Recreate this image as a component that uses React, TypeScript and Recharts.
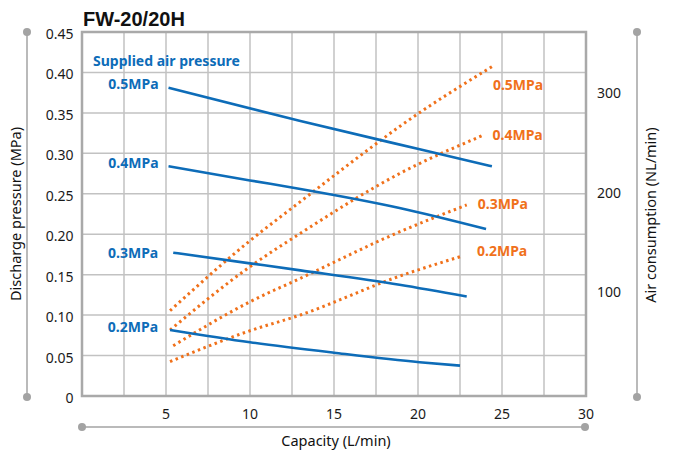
import React from 'react';
import {
  LineChart,
  Line,
  XAxis,
  YAxis,
  CartesianGrid,
  ReferenceArea,
} from 'recharts';

// Capacity (L/min) axis
const capacityTicks = [5, 10, 15, 20, 25, 30];
const capacityGrid = [2.5, 5, 7.5, 10, 12.5, 15, 17.5, 20, 22.5, 25, 27.5];

// Discharge pressure (MPa) axis, left
const pressureTicks = [0, 0.05, 0.1, 0.15, 0.2, 0.25, 0.3, 0.35, 0.4, 0.45];

// Air consumption (NL/min) axis, right
const consumptionTicks = [100, 200, 300];

const supplyLabels = ['0.5MPa', '0.4MPa', '0.3MPa', '0.2MPa'];

// discharge pressure vs capacity, one curve per supplied air pressure
const discharge05 = [
  { x: 5.15, y: 0.381 },
  { x: 13, y: 0.34 },
  { x: 20.1, y: 0.305 },
  { x: 24.4, y: 0.284 },
];
const discharge04 = [
  { x: 5.15, y: 0.284 },
  { x: 10, y: 0.2665 },
  { x: 13, y: 0.256 },
  { x: 18.9, y: 0.2325 },
  { x: 24.05, y: 0.2065 },
];
const discharge03 = [
  { x: 5.43, y: 0.1772 },
  { x: 10, y: 0.164 },
  { x: 13, y: 0.1553 },
  { x: 18.9, y: 0.1375 },
  { x: 22.9, y: 0.1229 },
];
const discharge02 = [
  { x: 5.24, y: 0.0817 },
  { x: 10, y: 0.0665 },
  { x: 15, y: 0.0535 },
  { x: 20.1, y: 0.0417 },
  { x: 22.5, y: 0.0375 },
];

// air consumption vs capacity
const air05 = [
  { x: 5.24, y: 81 },
  { x: 10, y: 151.6 },
  { x: 13, y: 191 },
  { x: 16.85, y: 241 },
  { x: 18.93, y: 267 },
  { x: 24.4, y: 327 },
];
const air04 = [
  { x: 5.24, y: 61.5 },
  { x: 10, y: 125.4 },
  { x: 13, y: 159 },
  { x: 18.93, y: 219.5 },
  { x: 23.9, y: 258 },
];
const air03 = [
  { x: 5.43, y: 45.7 },
  { x: 10, y: 90 },
  { x: 13, y: 113.7 },
  { x: 18.93, y: 160.7 },
  { x: 22.9, y: 187.6 },
];
const air02 = [
  { x: 5.24, y: 29.6 },
  { x: 10, y: 60.8 },
  { x: 13, y: 76.7 },
  { x: 18.93, y: 116 },
  { x: 22.5, y: 135.4 },
];

const BLUE = '#0d6cb8';
const ORANGE = '#f0711b';
const GRID = '#c2c2c2';
const FRAME = '#a9a9a9';
const DECOR = '#a3a3a3';
const FONT = '"Noto Sans", sans-serif';

const dischargeSeries = [
  { data: discharge05, dx: -10, dy: -4 },
  { data: discharge04, dx: -10, dy: -3 },
  { data: discharge03, dx: -15, dy: 0 },
  { data: discharge02, dx: -12, dy: -3 },
];
const airSeries = [
  { data: air05, dx: 1, dy: 18 },
  { data: air04, dx: 9, dy: 0 },
  { data: air03, dx: 11, dy: -1 },
  { data: air02, dx: 17, dy: -6 },
];

// Curve name written beside its first (anchor 'end') or last point (anchor 'start')
const curveLabel =
  (text: string, color: string, atStart: boolean, count: number, dx: number, dy: number) =>
  (props: any) => {
    const { x, y, index } = props;
    const wanted = atStart ? 0 : count - 1;
    if (index !== wanted || x == null || y == null) return null;
    return (
      <text
        key={`${text}-${atStart}`}
        x={x + dx}
        y={y + dy}
        dy="0.36em"
        textAnchor={atStart ? 'end' : 'start'}
        fill={color}
        fontFamily={FONT}
        fontWeight={700}
        fontSize={14}
      >
        {text}
      </text>
    );
  };

const fmtPressure = (v: number) => (v === 0 ? '0' : v.toFixed(2));

const AxisDecor = () => (
  <svg
    width={681}
    height={452}
    style={{ position: 'absolute', left: 0, top: 0, pointerEvents: 'none' }}
  >
    <g stroke={DECOR} strokeWidth={1.5} fill={DECOR}>
      <line x1={27} y1={32} x2={27} y2={397} />
      <circle cx={27} cy={32} r={4} stroke="none" />
      <circle cx={27} cy={397} r={4} stroke="none" />
      <line x1={82} y1={427} x2={585} y2={427} />
      <circle cx={82} cy={427} r={4} stroke="none" />
      <circle cx={585} cy={427} r={4} stroke="none" />
      <line x1={637} y1={32} x2={637} y2={397} />
      <circle cx={637} cy={32} r={4} stroke="none" />
      <circle cx={637} cy={397} r={4} stroke="none" />
    </g>
    <text x={83} y={26} fontFamily='"Liberation Sans", Arial, sans-serif' fontWeight={700} fontSize={20} fill="#111">
      FW-20/20H
    </text>
    <text x={93} y={61} dy="0.36em" fontFamily={FONT} fontWeight={700} fontSize={14} fill={BLUE}>
      Supplied air pressure
    </text>
    <text
      transform="translate(16, 214) rotate(-90)"
      textAnchor="middle"
      dy="0.36em"
      fontFamily={FONT}
      fontSize={14.5}
      fill="#111"
    >
      Discharge pressure (MPa)
    </text>
    <text
      transform="translate(651, 215) rotate(-90)"
      textAnchor="middle"
      dy="0.36em"
      fontFamily={FONT}
      fontSize={14.5}
      fill="#111"
    >
      Air consumption (NL/min)
    </text>
    <text x={336} y={441} dy="0.36em" textAnchor="middle" fontFamily={FONT} fontSize={14.5} fill="#111">
      Capacity (L/min)
    </text>
  </svg>
);

const App: React.FC = () => {
  const tickStyle = { fontSize: 14, fill: '#1a1a1a', fontFamily: FONT };

  return (
    <div style={{ position: 'absolute', left: 0, top: 0, width: 681, height: 452, background: '#fff' }}>
      <LineChart
        width={681}
        height={452}
        margin={{ top: 32, right: 35, bottom: 26, left: 22 }}
      >
        <CartesianGrid
          yAxisId="left"
          stroke={GRID}
          strokeWidth={1.5}
          verticalValues={capacityGrid}
          horizontalValues={pressureTicks}
        />
        <XAxis
          type="number"
          dataKey="x"
          domain={[0, 30]}
          ticks={capacityTicks}
          axisLine={false}
          tickLine={false}
          tickSize={6}
          tickMargin={7}
          height={30}
          tick={tickStyle}
          interval={0}
        />
        <YAxis
          yAxisId="left"
          type="number"
          domain={[0, 0.45]}
          ticks={pressureTicks}
          tickFormatter={fmtPressure}
          axisLine={false}
          tickLine={false}
          tickSize={6}
          tickMargin={2.5}
          width={60}
          tick={{ ...tickStyle, dy: 2 }}
          interval={0}
        />
        <YAxis
          yAxisId="right"
          orientation="right"
          type="number"
          domain={[-5, 362]}
          ticks={consumptionTicks}
          axisLine={false}
          tickLine={false}
          tickSize={6}
          tickMargin={5}
          width={60}
          tick={tickStyle}
          interval={0}
        />
        <ReferenceArea
          yAxisId="left"
          x1={0}
          x2={30}
          y1={0}
          y2={0.45}
          fill="none"
          fillOpacity={0}
          stroke={FRAME}
          strokeWidth={2.5}
          ifOverflow="visible"
        />
        {airSeries.map((s, i) => (
          <Line
            key={`air-${i}`}
            yAxisId="right"
            data={s.data}
            dataKey="y"
            type="monotone"
            stroke={ORANGE}
            strokeWidth={3}
            strokeDasharray="2.5 3.5"
            dot={false}
            activeDot={false}
            isAnimationActive={false}
            label={curveLabel(supplyLabels[i], ORANGE, false, s.data.length, s.dx, s.dy)}
          />
        ))}
        {dischargeSeries.map((s, i) => (
          <Line
            key={`dis-${i}`}
            yAxisId="left"
            data={s.data}
            dataKey="y"
            type="monotone"
            stroke={BLUE}
            strokeWidth={2.6}
            dot={false}
            activeDot={false}
            isAnimationActive={false}
            label={curveLabel(supplyLabels[i], BLUE, true, s.data.length, s.dx, s.dy)}
          />
        ))}
      </LineChart>
      <AxisDecor />
    </div>
  );
};

export default App;
